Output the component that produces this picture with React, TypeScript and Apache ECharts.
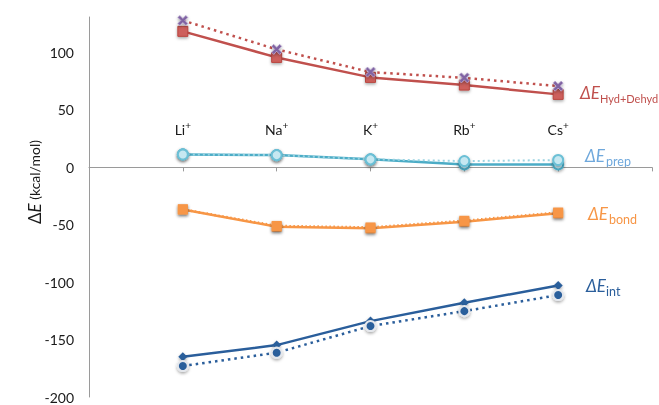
import React, { useEffect, useRef } from "react";
import * as echarts from "echarts";

const ions = ["Li", "Na", "K", "Rb", "Cs"];
const yTicks = [-200, -150, -100, -50, 0, 50, 100];

const hydSolid = [118.5, 95.8, 78.4, 71.7, 63.6];
const hydDotted = [128, 102.8, 83, 78, 70.8];
const prepSolid = [11.3, 10.7, 7, 2.6, 2.6];
const prepDotted = [11.3, 10.7, 7, 5.5, 6.4];
const bondSolid = [-36.6, -51.7, -53.1, -47.3, -40];
const bondDotted = [-36.6, -51, -52.3, -46.5, -39.3];
const intSolid = [-164.9, -154.8, -133.9, -117.9, -102.8];
const intDotted = [-173, -161.4, -138.2, -125.2, -111.2];

const FONT = "Lato, 'Open Sans', sans-serif";
const pad = (arr: number[]) => [null, ...arr, null];

const xPath =
  "path://M0,2 L2,0 L5,3 L8,0 L10,2 L7,5 L10,8 L8,10 L5,7 L2,10 L0,8 L3,5 Z";

function seriesLabel(x: number, y: number, sub: string, color: string, subDx: number, subSize = 12.5) {
  return [
    {
      type: "text",
      x,
      y,
      style: {
        text: "ΔE",
        fill: color,
        font: `italic 17px ${FONT}`,
        textVerticalAlign: "middle",
      },
    },
    {
      type: "text",
      x: x + subDx,
      y: y + 6,
      style: {
        text: sub,
        fill: color,
        font: `${subSize}px ${FONT}`,
        textVerticalAlign: "middle",
      },
    },
  ];
}

export default function App() {
  const ref = useRef<HTMLDivElement>(null);
  useEffect(() => {
    if (!ref.current) return;
    const chart = echarts.init(ref.current, null, { renderer: "svg" });
    const shadow = { shadowBlur: 3, shadowColor: "rgba(0,0,0,0.35)", shadowOffsetY: 1.5 };
    chart.setOption({
      animation: false,
      grid: { left: 89, right: 7, top: 17, bottom: 8 },
      xAxis: {
        type: "category",
        boundaryGap: false,
        data: ["", ...ions, ""],
        axisLine: { onZero: true, lineStyle: { color: "#9a9a9a", width: 1 } },
        axisTick: { show: true, length: 4, lineStyle: { color: "#9a9a9a" } },
        axisLabel: {
          inside: true,
          margin: 259,
          interval: 0,
          formatter: (v: string) => (v ? `{b|${v}}{s|+}` : ""),
          rich: {
            b: { fontSize: 14, fontFamily: FONT, color: "#1a1a1a", lineHeight: 18 },
            s: { fontSize: 10, fontFamily: FONT, color: "#1a1a1a", lineHeight: 12, verticalAlign: "top" },
          },
        },
        splitLine: { show: false },
      },
      yAxis: {
        type: "value",
        min: -200,
        max: 131,
        interval: 50,
        axisLine: { show: true, lineStyle: { color: "#9a9a9a", width: 1 } },
        axisTick: { show: false },
        splitLine: { show: false },
        axisLabel: {
          margin: 15,
          fontSize: 14,
          fontFamily: FONT,
          color: "#1a1a1a",
          formatter: (v: number) => (yTicks.includes(v) ? String(v) : ""),
        },
      },
      graphic: [
        {
          type: "text",
          x: 34,
          y: 182,
          rotation: Math.PI / 2,
          style: {
            text: "{a|Δ}{e|E}{c| (kcal/mol)}",
            textAlign: "center",
            textVerticalAlign: "middle",
            rich: {
              a: { font: `17px ${FONT}`, fill: "#1a1a1a" },
              e: { font: `italic 17px ${FONT}`, fill: "#1a1a1a" },
              c: { font: `14px ${FONT}`, fill: "#1a1a1a" },
            },
          },
        },
        ...seriesLabel(580, 92, "Hyd+Dehyd", "#c0504d", 20, 11),
        ...seriesLabel(585, 155, "prep", "#6fa8dc", 21),
        ...seriesLabel(588, 213, "bond", "#f79646", 21),
        ...seriesLabel(586, 285, "int", "#2a5e9b", 20),
      ],
      series: [
        {
          type: "line",
          data: pad(hydSolid),
          symbol: "rect",
          symbolSize: 10,
          lineStyle: { color: "#c0504d", width: 2.5 },
          itemStyle: { color: "#cd5f5b", borderColor: "#b8443f", borderWidth: 1, ...shadow },
          z: 2,
        },
        {
          type: "line",
          data: pad(hydDotted),
          symbol: xPath,
          symbolSize: 10,
          lineStyle: { color: "#c0504d", width: 2.5, type: [2.5, 4] },
          itemStyle: { color: "#8064a2", borderColor: "#b9a8d0", borderWidth: 0.8, ...shadow },
          z: 3,
        },
        {
          type: "line",
          data: pad(prepSolid),
          symbol: "circle",
          symbolSize: 10,
          lineStyle: { color: "#4bacc6", width: 2.5 },
          itemStyle: { color: "#c6e8f1", borderColor: "#4bacc6", borderWidth: 2, ...shadow },
          z: 2,
        },
        {
          type: "line",
          data: pad(prepDotted),
          symbol: "circle",
          symbolSize: 10,
          lineStyle: { color: "#9ad3e2", width: 2, type: [2, 3] },
          itemStyle: { color: "#c6e8f1", borderColor: "#6cc0d6", borderWidth: 2, ...shadow },
          z: 3,
        },
        {
          type: "line",
          data: pad(bondSolid),
          symbol: "rect",
          symbolSize: 10,
          lineStyle: { color: "#f79646", width: 2.5 },
          itemStyle: { color: "#f79646", ...shadow },
          z: 2,
        },
        {
          type: "line",
          data: pad(bondDotted),
          symbol: "rect",
          symbolSize: 10,
          lineStyle: { color: "#f79646", width: 2.5, type: [1.5, 2.5] },
          itemStyle: { color: "#f79646", ...shadow },
          z: 3,
        },
        {
          type: "line",
          data: pad(intSolid),
          symbol: "diamond",
          symbolSize: 9,
          lineStyle: { color: "#2a5e9b", width: 2.5 },
          itemStyle: { color: "#2a5e9b", ...shadow },
          z: 2,
        },
        {
          type: "line",
          data: pad(intDotted),
          symbol: "circle",
          symbolSize: 10,
          lineStyle: { color: "#2a5e9b", width: 2.5, type: [2.5, 4] },
          itemStyle: { color: "#2a5e9b", borderColor: "#e4e7ec", borderWidth: 2, ...shadow },
          z: 3,
        },
      ],
    });
    return () => chart.dispose();
  }, []);
  return (
    <div
      ref={ref}
      style={{ position: "fixed", left: 0, top: 0, width: 659, height: 405 }}
    />
  );
}
